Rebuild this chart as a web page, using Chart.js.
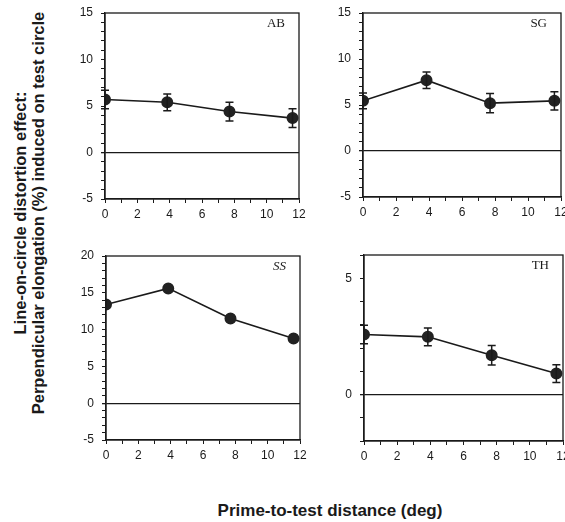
<!DOCTYPE html>
<html>
<head>
<meta charset="utf-8">
<script src="https://cdn.jsdelivr.net/npm/chart.js@4"></script>
<style>
  html, body { margin: 0; padding: 0; background: #fff; }
  body { width: 565px; height: 522px; position: relative; overflow: hidden; }
  .panel { position: absolute; }
  .ytitle {
    position: absolute; width: 460px; left: 29px; top: 213px;
    transform: translate(-50%, -50%) rotate(-90deg);
    text-align: center; font: bold 16.5px "Liberation Sans", Arial, sans-serif;
    line-height: 17.5px; color: #1a1a1a;
  }
  .xtitle {
    position: absolute; left: 330px; top: 511px; transform: translate(-50%, -50%);
    font: bold 17px "Liberation Sans", Arial, sans-serif; color: #1a1a1a; white-space: nowrap;
  }
</style>
</head>
<body>
<div class="ytitle">Line-on-circle distortion effect:<br>Perpendicular elongation (%) induced on test circle</div>
<div class="xtitle">Prime-to-test distance (deg)</div>
<script>
// prime-to-test distance (deg), same for every observer
const distances = [0, 3.85, 7.7, 11.6];

const observers = ['AB', 'SG', 'SS', 'TH'];
const abValues = [5.7, 5.4, 4.4, 3.7];
const abErrors = [1.0, 0.9, 1.0, 1.0];
const sgValues = [5.45, 7.7, 5.2, 5.45];
const sgErrors = [0.85, 0.9, 1.05, 1.0];
const ssValues = [13.4, 15.6, 11.5, 8.8];
const ssErrors = [0, 0, 0, 0];
const thValues = [2.58, 2.48, 1.69, 0.9];
const thErrors = [0.4, 0.38, 0.42, 0.38];

const xTicks = [0, 2, 4, 6, 8, 10, 12];
const abTicks = [-5, 0, 5, 10, 15];
const sgTicks = [-5, 0, 5, 10, 15];
const ssTicks = [-5, 0, 5, 10, 15, 20];
const thTicks = [0, 5];

// plot rectangles (left, top, right, bottom) and y ranges
const panels = [
  { name: 'AB', values: abValues, errors: abErrors, ticks: abTicks, min: -5, max: 15, box: [105, 13, 299, 199] },
  { name: 'SG', values: sgValues, errors: sgErrors, ticks: sgTicks, min: -5, max: 15, box: [363, 13, 561, 197] },
  { name: 'SS', values: ssValues, errors: ssErrors, ticks: ssTicks, min: -5, max: 20, box: [106, 256, 300, 440] },
  { name: 'TH', values: thValues, errors: thErrors, ticks: thTicks, min: -2, max: 6, box: [364, 255, 563, 441] }
];

// top pad must exceed half a tick label + tick padding, or chart.js pushes the area down
const PAD_L = 40, PAD_T = 16, PAD_R = 14, PAD_B = 28;
const INK = '#1a1a1a';

// error bars + frame + observer label
const extras = {
  id: 'extras',
  afterDatasetsDraw(chart, args, opts) {
    const { ctx, chartArea, scales } = chart;
    ctx.save();
    ctx.strokeStyle = INK;
    ctx.lineWidth = 1.3;
    ctx.strokeRect(chartArea.left, chartArea.top, chartArea.right - chartArea.left, chartArea.bottom - chartArea.top);
    ctx.lineWidth = 1.5;
    distances.forEach((d, i) => {
      const e = opts.errors[i];
      if (!e) return;
      const x = scales.x.getPixelForValue(d);
      const y1 = scales.y.getPixelForValue(opts.values[i] + e);
      const y2 = scales.y.getPixelForValue(opts.values[i] - e);
      ctx.beginPath();
      ctx.moveTo(x, y1); ctx.lineTo(x, y2);
      ctx.moveTo(x - 4, y1); ctx.lineTo(x + 4, y1);
      ctx.moveTo(x - 4, y2); ctx.lineTo(x + 4, y2);
      ctx.stroke();
    });
    ctx.fillStyle = INK;
    ctx.font = (opts.name === 'SS' ? 'italic ' : '') + '13px "Liberation Serif", "Times New Roman", serif';
    ctx.textAlign = 'right';
    ctx.textBaseline = 'middle';
    ctx.fillText(opts.name, chartArea.right - 14, chartArea.top + 11);
    ctx.restore();
  }
};

panels.forEach(p => {
  const [l, t, r, b] = p.box;
  const div = document.createElement('div');
  div.className = 'panel';
  const w = (r - l) + PAD_L + PAD_R;
  const h = (b - t) + PAD_T + PAD_B;
  div.style.left = (l - PAD_L) + 'px';
  div.style.top = (t - PAD_T) + 'px';
  div.style.width = w + 'px';
  div.style.height = h + 'px';
  const canvas = document.createElement('canvas');
  div.appendChild(canvas);
  document.body.appendChild(div);

  new Chart(canvas.getContext('2d'), {
    type: 'scatter',
    data: {
      datasets: [{
        data: distances.map((d, i) => ({ x: d, y: p.values[i] })),
        showLine: true,
        borderColor: INK,
        borderWidth: 1.6,
        backgroundColor: '#222',
        pointBackgroundColor: '#222',
        pointBorderColor: '#222',
        pointRadius: 5.2,
        pointHoverRadius: 5.2
      }]
    },
    options: {
      responsive: true,
      maintainAspectRatio: false,
      animation: false,
      events: [],
      layout: { padding: { left: 0, top: PAD_T, right: PAD_R, bottom: 0 } },
      plugins: {
        legend: { display: false },
        tooltip: { enabled: false },
        extras: { name: p.name, values: p.values, errors: p.errors }
      },
      scales: {
        x: {
          type: 'linear',
          min: 0, max: 12,
          afterFit: s => { s.height = PAD_B; },
          border: { display: true, color: INK, width: 1.3 },
          grid: { drawOnChartArea: false, tickLength: 4, color: INK, tickColor: INK },
          ticks: {
            stepSize: 1, autoSkip: false, maxRotation: 0, padding: 4,
            color: INK, font: { family: '"Liberation Sans", Arial, sans-serif', size: 12 },
            callback: v => xTicks.includes(Math.round(v)) && Math.abs(v - Math.round(v)) < 1e-6 ? Math.round(v) : ''
          }
        },
        y: {
          min: p.min, max: p.max,
          afterFit: s => { s.width = PAD_L; },
          border: { display: true, color: INK, width: 1.3 },
          grid: {
            drawOnChartArea: true, tickLength: 4,
            color: c => (c.tick && c.tick.value === 0) ? INK : 'rgba(0,0,0,0)',
            lineWidth: c => (c.tick && c.tick.value === 0) ? 1.3 : 1,
            tickColor: INK
          },
          ticks: {
            stepSize: 1, autoSkip: false, padding: 8,
            color: INK, font: { family: '"Liberation Sans", Arial, sans-serif', size: 12 },
            callback: v => p.ticks.includes(Math.round(v)) && Math.abs(v - Math.round(v)) < 1e-6 ? Math.round(v) : ''
          }
        }
      }
    },
    plugins: [extras]
  });
});
</script>
</body>
</html>
